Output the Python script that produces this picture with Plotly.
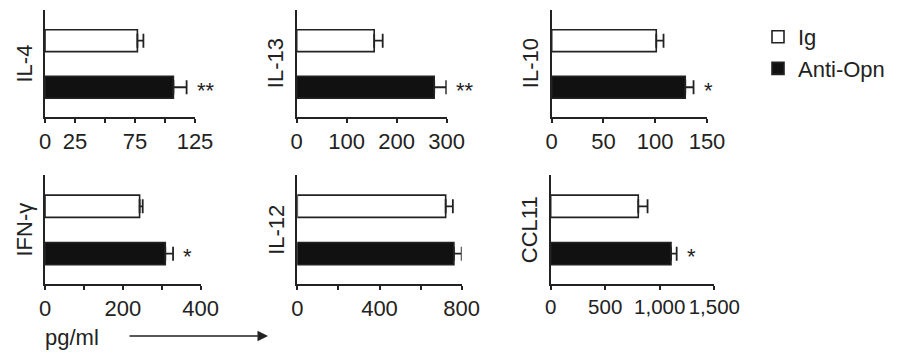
import plotly.graph_objects as go

# ---- data ----
cytokines = ["IL-4", "IL-13", "IL-10", "IFN-γ", "IL-12", "CCL11"]
groups = ["Ig", "Anti-Opn"]
ig_values = [77, 155, 101, 243, 722, 803]
ig_err = [5, 17, 7, 8, 35, 85]
anti_values = [107, 275, 129, 309, 762, 1103]
anti_err = [11, 24, 8, 20, 38, 52]
significance = ["**", "**", "*", "*", "", "*"]
x_max = [125, 300, 150, 400, 800, 1500]
tick_vals = [
    [0, 25, 50, 75, 100, 125],
    [0, 100, 200, 300],
    [0, 50, 100, 150],
    [0, 100, 200, 300, 400],
    [0, 200, 400, 600, 800],
    [0, 500, 1000, 1500],
]
tick_text = [
    ["0", "25", "", "75", "", "125"],
    ["0", "100", "200", "300"],
    ["0", "50", "100", "150"],
    ["0", "", "200", "", "400"],
    ["0", "", "400", "", "800"],
    ["0", "500", "1,000", "1,500"],
]
unit_label = "pg/ml"

# ---- layout geometry (page pixels; the page body has an 8px margin) ----
OFF = 8
W, H = 901 - OFF, 352 - OFF
x_px = [(45, 195), (296.7, 446.7), (551.7, 707), (45, 200.7), (297.3, 461.7), (550.7, 714.3)]
y_px = [(10, 117), (10, 117), (10, 117), (175, 284), (175, 284), (175, 284)]
tick_font_size = [22, 22, 22, 22, 22, 20.5]


def fx(p):
    return (p - OFF) / W


def fy(p):
    return 1 - (p - OFF) / H


FONT = "Liberation Sans, Arial, sans-serif"
INK = "#222222"

fig = go.Figure()
layout = dict(
    width=W, height=H,
    margin=dict(l=0, r=0, t=0, b=0, autoexpand=False),
    paper_bgcolor="white", plot_bgcolor="white",
    font=dict(family=FONT, size=22, color=INK),
    showlegend=True,
    barmode="overlay",
    legend=dict(x=fx(758), y=fy(16), xanchor="left", yanchor="top",
                font=dict(size=22, color=INK), bgcolor="rgba(0,0,0,0)",
                tracegroupgap=0, itemwidth=30),
)
annotations = []

for i, name in enumerate(cytokines):
    xa = "x" if i == 0 else f"x{i+1}"
    ya = "y" if i == 0 else f"y{i+1}"
    xkey = "xaxis" if i == 0 else f"xaxis{i+1}"
    ykey = "yaxis" if i == 0 else f"yaxis{i+1}"
    fig.add_trace(go.Bar(
        x=[ig_values[i]], y=[groups[0]], orientation="h", name=groups[0],
        marker=dict(color="white", line=dict(color=INK, width=1.6)),
        width=0.47, showlegend=(i == 0), legendgroup="ig", cliponaxis=False,
        error_x=dict(type="data", array=[ig_err[i]], arrayminus=[0], symmetric=False,
                     color=INK, thickness=1.8, width=7),
        xaxis=xa, yaxis=ya,
    ))
    fig.add_trace(go.Bar(
        x=[anti_values[i]], y=[groups[1]], orientation="h", name=groups[1],
        marker=dict(color="#111111", line=dict(color=INK, width=1.6)),
        width=0.47, showlegend=(i == 0), legendgroup="anti", cliponaxis=False,
        error_x=dict(type="data", array=[anti_err[i]], arrayminus=[0], symmetric=False,
                     color=INK, thickness=1.8, width=7),
        xaxis=xa, yaxis=ya,
    ))
    x0, x1 = x_px[i]
    yt, yb = y_px[i]
    px_per_unit = (x1 - x0) / x_max[i]
    layout[xkey] = dict(
        domain=[fx(x0), fx(x1)], anchor=ya, range=[0, x_max[i]],
        tickmode="array", tickvals=tick_vals[i], ticktext=tick_text[i],
        ticks="outside", ticklen=4, tickwidth=1.5, tickcolor=INK, tickangle=0,
        showline=True, linecolor=INK, linewidth=1.6, showgrid=False, zeroline=False,
        tickfont=dict(size=tick_font_size[i], color=INK, family=FONT),
    )
    layout[ykey] = dict(
        domain=[fy(yb), fy(yt)], anchor=xa,
        categoryorder="array", categoryarray=[groups[1], groups[0]],
        range=[-0.64, 1.66], showticklabels=False, ticks="",
        showline=True, linecolor=INK, linewidth=1.6, showgrid=False, zeroline=False,
    )
    # axis title (rotated)
    annotations.append(dict(
        text=name, xref=f"{xa} domain", yref=f"{ya} domain", x=0, y=0.5,
        xanchor="center", yanchor="middle", xshift=-21, textangle=-90,
        showarrow=False, font=dict(size=22, color=INK, family=FONT),
    ))
    if significance[i]:
        annotations.append(dict(
            text=significance[i], xref=xa, yref=ya,
            x=anti_values[i], y=groups[1],
            xanchor="left", yanchor="middle",
            xshift=anti_err[i] * px_per_unit + 8, yshift=-3,
            showarrow=False, font=dict(size=22, color=INK, family=FONT),
        ))

# unit label with arrow
annotations.append(dict(
    text=unit_label, xref="paper", yref="paper", x=fx(43), y=fy(337),
    xanchor="left", yanchor="middle", showarrow=False,
    font=dict(size=22, color=INK, family=FONT),
))
annotations.append(dict(
    text="", xref="paper", yref="paper", x=fx(268), y=fy(336),
    ax=-140, ay=0, showarrow=True, arrowhead=2, arrowsize=1.4, arrowwidth=1.5,
    arrowcolor=INK,
))
layout["annotations"] = annotations
fig.update_layout(**layout)
fig.write_html("out.html")
